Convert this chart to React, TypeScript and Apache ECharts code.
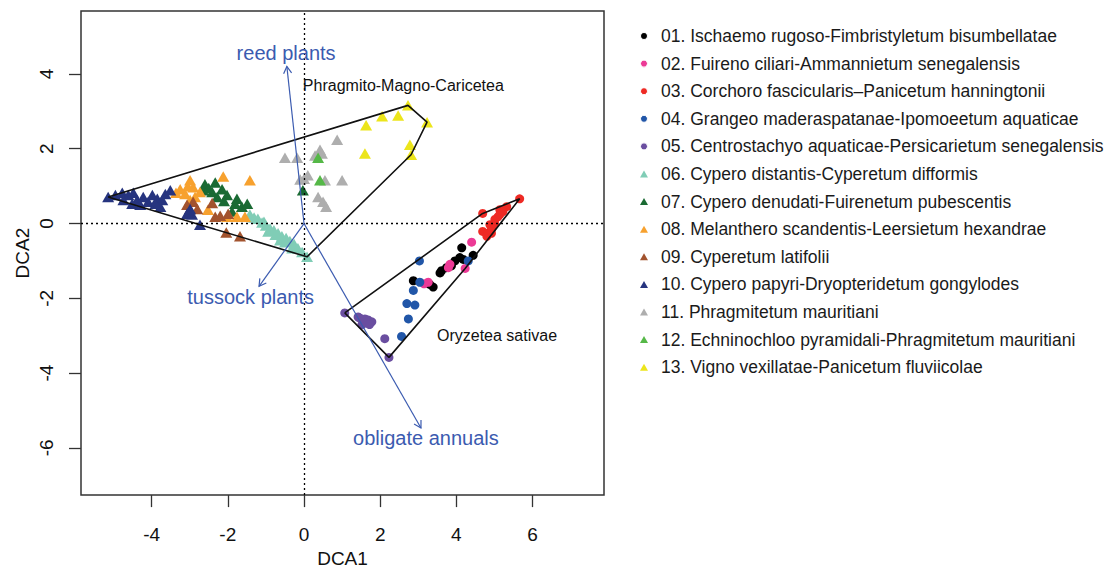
import React, { useEffect, useRef } from "react";
import * as echarts from "echarts";

const FONT = '"Liberation Sans", Arial, Helvetica, sans-serif';
const BLUE = "#3B5BB0";

const GROUP_NAMES = [
  "01. Ischaemo rugoso-Fimbristyletum bisumbellatae",
  "02. Fuireno ciliari-Ammannietum senegalensis",
  "03. Corchoro fascicularis\u2013Panicetum hanningtonii",
  "04. Grangeo maderaspatanae-Ipomoeetum aquaticae",
  "05. Centrostachyo aquaticae-Persicarietum senegalensis",
  "06. Cypero distantis-Cyperetum difformis",
  "07. Cypero denudati-Fuirenetum pubescentis",
  "08. Melanthero scandentis-Leersietum hexandrae",
  "09. Cyperetum latifolii",
  "10. Cypero papyri-Dryopteridetum gongylodes",
  "11. Phragmitetum mauritiani",
  "12. Echninochloo pyramidali-Phragmitetum mauritiani",
  "13. Vigno vexillatae-Panicetum fluviicolae",
];

const GROUP_COLORS = [
  "#000000", "#EC3A96", "#EE2A24", "#2156A8", "#6A4EA0",
  "#80CDB6", "#1A6A33", "#F7A12E", "#A2532E", "#26347F",
  "#AEAEAE", "#55B847", "#ECE51B",
];

const GROUP_SYMBOLS = [
  "circle", "circle", "circle", "circle", "circle",
  "triangle", "triangle", "triangle", "triangle", "triangle",
  "triangle", "triangle", "triangle",
];

const G01 = [[4.14, -0.65], [4.44, -0.85], [4.09, -0.91], [3.96, -1.0], [3.74, -1.18], [3.61, -1.26], [3.57, -1.32], [2.87, -1.53], [3.39, -1.7], [3.87, -1.13], [4.18, -0.96], [3.3, -1.63]];
const G02 = [[4.4, -0.5], [3.83, -1.09], [3.79, -1.18], [4.23, -1.2], [3.26, -1.57], [3.15, -1.61]];
const G03 = [[5.66, 0.66], [4.69, 0.27], [5.14, 0.37], [5.32, 0.45], [5.22, 0.32], [5.09, 0.18], [5.01, 0.11], [5.14, 0.24], [4.88, -0.03], [4.93, -0.13], [4.69, -0.21], [4.82, -0.26], [4.92, -0.26], [4.8, -0.34], [4.9, -0.2], [5.0, 0.0]];
const G04 = [[3.03, -1.0], [4.31, -1.0], [3.04, -1.57], [2.87, -1.79], [2.7, -2.14], [2.91, -2.18], [2.74, -2.55], [2.56, -3.02]];
const G05 = [[1.07, -2.39], [1.42, -2.5], [1.47, -2.53], [1.55, -2.63], [1.68, -2.58], [1.78, -2.63], [1.52, -2.71], [1.65, -2.66], [1.6, -2.55], [1.72, -2.7], [2.12, -3.08], [2.23, -3.58]];
const G06 = [[-1.42, 0.24], [-1.31, 0.16], [-1.21, 0.13], [-1.1, 0.03], [-1.05, 0.05], [-1.0, -0.05], [-0.94, -0.21], [-0.89, -0.13], [-0.79, -0.18], [-0.68, -0.26], [-0.63, -0.45], [-0.58, -0.34], [-0.47, -0.39], [-0.37, -0.47], [-0.31, -0.66], [-0.26, -0.55], [-0.16, -0.66], [-0.05, -0.76], [0.08, -0.89], [-0.75, -0.3], [-0.5, -0.5]];
const G07 = [[-2.6, 1.05], [-2.33, 1.1], [-2.15, 0.92], [-2.41, 0.84], [-2.65, 0.89], [-2.28, 0.71], [-2.02, 0.76], [-1.76, 0.66], [-1.81, 0.53], [-1.63, 0.45], [-1.49, 0.53], [-1.89, 0.32], [-2.5, 0.95], [-2.1, 0.6], [-0.03, 0.89]];
const G08 = [[-2.99, 1.16], [-2.12, 1.26], [-1.42, 1.16], [-3.25, 0.92], [-3.12, 0.79], [-2.91, 0.97], [-2.73, 0.84], [-2.86, 0.71], [-2.99, 0.63], [-2.52, 0.37], [-2.02, 0.18], [-1.76, 0.18], [-1.55, 0.18], [-3.36, 0.82], [-3.05, 1.0]];
const G09 = [[-3.07, 0.5], [-2.91, 0.58], [-2.8, 0.39], [-2.41, 0.55], [-2.33, 0.18], [-2.2, 0.21], [-1.99, 0.26], [-2.04, -0.24], [-1.68, -0.34], [-2.99, 0.39]];
const G10 = [[-5.14, 0.71], [-4.95, 0.76], [-4.77, 0.82], [-4.61, 0.76], [-4.48, 0.82], [-4.74, 0.63], [-4.38, 0.63], [-4.22, 0.71], [-4.09, 0.58], [-3.98, 0.76], [-3.85, 0.66], [-3.72, 0.63], [-3.64, 0.79], [-3.51, 0.89], [-3.07, 0.26], [-2.94, 0.24], [-2.99, 0.39], [-2.73, -0.03], [-3.77, 0.45], [-4.51, 0.53], [-4.3, 0.5], [-3.9, 0.53]];
const G11 = [[-0.5, 1.76], [-0.18, 1.76], [0.42, 1.97], [0.47, 1.87], [0.87, 2.24], [0.29, 1.82], [-0.1, 1.18], [0.1, 1.29], [0.0, 1.2], [0.55, 1.16], [1.0, 1.16], [0.37, 0.71], [0.5, 0.58], [0.58, 0.45]];
const G12 = [[0.37, 1.76], [0.42, 1.16]];
const G13 = [[1.63, 2.63], [2.05, 2.87], [2.47, 2.89], [2.73, 3.16], [3.23, 2.71], [2.78, 2.11], [2.81, 1.84], [1.6, 1.87]];

const GROUPS = [G01, G02, G03, G04, G05, G06, G07, G08, G09, G10, G11, G12, G13];

const HULL_NAMES = ["Phragmito-Magno-Caricetea", "Oryzetea sativae"];
const HULL_MEMBERS = [[5, 6, 7, 8, 9, 10, 11, 12], [0, 1, 2, 3, 4]];
const HULL_LABEL_POS = [[-0.03, 3.68], [3.49, -3.0]];

const ARROW_NAMES = ["reed plants", "tussock plants", "obligate annuals"];
const ARROW_ORIGIN = [0, 0];
const ARROW_TIPS = [[-0.45, 4.2], [-1.18, -1.68], [3.07, -5.47]];
const ARROW_LABEL_POS = [[-0.47, 4.55], [-1.4, -1.97], [3.2, -5.74]];

const X_TICKS = [-4, -2, 0, 2, 4, 6];
const Y_TICKS = [-6, -4, -2, 0, 2, 4];
const X_RANGE = [-5.853, 7.874];
const Y_RANGE = [-7.263, 5.684];

function convexHull(pts: number[][]): number[][] {
  const p = pts.slice().sort((a, b) => (a[0] - b[0]) || (a[1] - b[1]));
  const cross = (o: number[], a: number[], b: number[]) =>
    (a[0] - o[0]) * (b[1] - o[1]) - (a[1] - o[1]) * (b[0] - o[0]);
  const lower: number[][] = [];
  for (const q of p) {
    while (lower.length >= 2 && cross(lower[lower.length - 2], lower[lower.length - 1], q) <= 0) lower.pop();
    lower.push(q);
  }
  const upper: number[][] = [];
  for (let i = p.length - 1; i >= 0; i--) {
    const q = p[i];
    while (upper.length >= 2 && cross(upper[upper.length - 2], upper[upper.length - 1], q) <= 0) upper.pop();
    upper.push(q);
  }
  upper.pop();
  lower.pop();
  const h = lower.concat(upper);
  h.push(h[0]);
  return h;
}

export default function App() {
  const ref = useRef<HTMLDivElement>(null);
  useEffect(() => {
    if (!ref.current) return;
    const chart = echarts.init(ref.current, undefined, { renderer: "svg" });

    const scatterSeries = GROUPS.map((g, i) => ({
      type: "scatter",
      name: GROUP_NAMES[i],
      data: g,
      symbol: GROUP_SYMBOLS[i],
      symbolSize: GROUP_SYMBOLS[i] === "circle" ? 9 : [12, 10.5],
      itemStyle: { color: GROUP_COLORS[i], opacity: 1 },
      silent: true,
      z: 2,
      ...(i === 0
        ? {
            markLine: {
              silent: true,
              symbol: "none",
              label: { show: false },
              lineStyle: { type: [2, 3], color: "#000", width: 1.3 },
              emphasis: { disabled: true },
              data: [{ xAxis: 0 }, { yAxis: 0 }],
            },
          }
        : {}),
    }));

    const hullSeries = HULL_MEMBERS.map((members, i) => ({
      type: "line",
      name: "hull-" + HULL_NAMES[i],
      data: convexHull(members.flatMap((m) => GROUPS[m])),
      showSymbol: false,
      symbol: "none",
      lineStyle: { color: "#111", width: 1.6 },
      silent: true,
      z: 3,
    }));

    const option: any = {
      animation: false,
      backgroundColor: "#ffffff",
      textStyle: { fontFamily: FONT },
      grid: {
        show: true,
        left: 81,
        top: 11,
        width: 523,
        height: 492,
        borderColor: "#333",
        borderWidth: 1.5,
        containLabel: false,
      },
      xAxis: {
        type: "value",
        min: X_RANGE[0],
        max: X_RANGE[1],
        axisLine: { show: false, onZero: false },
        splitLine: { show: false },
        axisTick: { show: true, length: 12, lineStyle: { color: "#333", width: 1.3 }, customValues: X_TICKS },
        axisLabel: { customValues: X_TICKS, fontSize: 19, color: "#111", margin: 30, fontFamily: FONT },
        name: "DCA1",
        nameLocation: "middle",
        nameGap: 52,
        nameTextStyle: { fontSize: 19, color: "#111", fontFamily: FONT },
      },
      yAxis: {
        type: "value",
        min: Y_RANGE[0],
        max: Y_RANGE[1],
        axisLine: { show: false, onZero: false },
        splitLine: { show: false },
        axisTick: { show: true, length: 12, lineStyle: { color: "#333", width: 1.3 }, customValues: Y_TICKS },
        axisLabel: { customValues: Y_TICKS, fontSize: 19, color: "#111", margin: 25, rotate: 90, fontFamily: FONT },
        name: "DCA2",
        nameLocation: "middle",
        nameGap: 49,
        nameTextStyle: { fontSize: 19, color: "#111", fontFamily: FONT },
      },
      legend: {
        orient: "vertical",
        left: 635,
        top: 22,
        itemWidth: 8,
        itemHeight: 7,
        itemGap: 9.6,
        selectedMode: false,
        data: GROUP_NAMES.map((n, i) =>
          GROUP_SYMBOLS[i] === "circle"
            ? { name: n, icon: "circle", itemStyle: { borderColor: "#ffffff", borderWidth: 1 } }
            : { name: n, icon: GROUP_SYMBOLS[i] }
        ),
        textStyle: { fontSize: 17.5, color: "#1a1a1a", fontFamily: FONT, lineHeight: 18, padding: [0, 0, 0, 8] },
      },
      series: [
        ...scatterSeries,
        ...hullSeries,
        {
          type: "custom",
          name: "arrows",
          coordinateSystem: "cartesian2d",
          silent: true,
          z: 5,
          data: ARROW_TIPS,
          encode: { x: 0, y: 1 },
          renderItem: (params: any, api: any) => {
            const o = api.coord(ARROW_ORIGIN);
            const t = api.coord([api.value(0), api.value(1)]);
            const ang = Math.atan2(t[1] - o[1], t[0] - o[0]);
            const L = 8;
            const a = Math.PI / 6;
            const p1 = [t[0] - L * Math.cos(ang - a), t[1] - L * Math.sin(ang - a)];
            const p2 = [t[0] - L * Math.cos(ang + a), t[1] - L * Math.sin(ang + a)];
            return {
              type: "group",
              children: [
                { type: "line", shape: { x1: o[0], y1: o[1], x2: t[0], y2: t[1] }, style: { stroke: BLUE, lineWidth: 1.2 } },
                { type: "polyline", shape: { points: [p1, t, p2] }, style: { stroke: BLUE, lineWidth: 1.2, fill: null } },
              ],
            };
          },
        },
        {
          type: "custom",
          name: "arrowLabels",
          coordinateSystem: "cartesian2d",
          silent: true,
          z: 6,
          data: ARROW_LABEL_POS,
          encode: { x: 0, y: 1 },
          renderItem: (params: any, api: any) => {
            const p = api.coord([api.value(0), api.value(1)]);
            return {
              type: "text",
              x: p[0],
              y: p[1],
              style: {
                text: ARROW_NAMES[params.dataIndex],
                fill: BLUE,
                fontSize: 20,
                fontFamily: FONT,
                align: "center",
                verticalAlign: "middle",
              },
            };
          },
        },
        {
          type: "custom",
          name: "hullLabels",
          coordinateSystem: "cartesian2d",
          silent: true,
          z: 6,
          data: HULL_LABEL_POS,
          encode: { x: 0, y: 1 },
          renderItem: (params: any, api: any) => {
            const p = api.coord([api.value(0), api.value(1)]);
            return {
              type: "text",
              x: p[0],
              y: p[1],
              style: {
                text: HULL_NAMES[params.dataIndex],
                fill: "#111",
                fontSize: 16,
                fontFamily: FONT,
                align: "left",
                verticalAlign: "middle",
              },
            };
          },
        },
      ],
    };
    chart.setOption(option);
    return () => chart.dispose();
  }, []);

  return (
    <div
      ref={ref}
      style={{ position: "fixed", left: 0, top: 0, width: 1112, height: 573, background: "#fff" }}
    />
  );
}
